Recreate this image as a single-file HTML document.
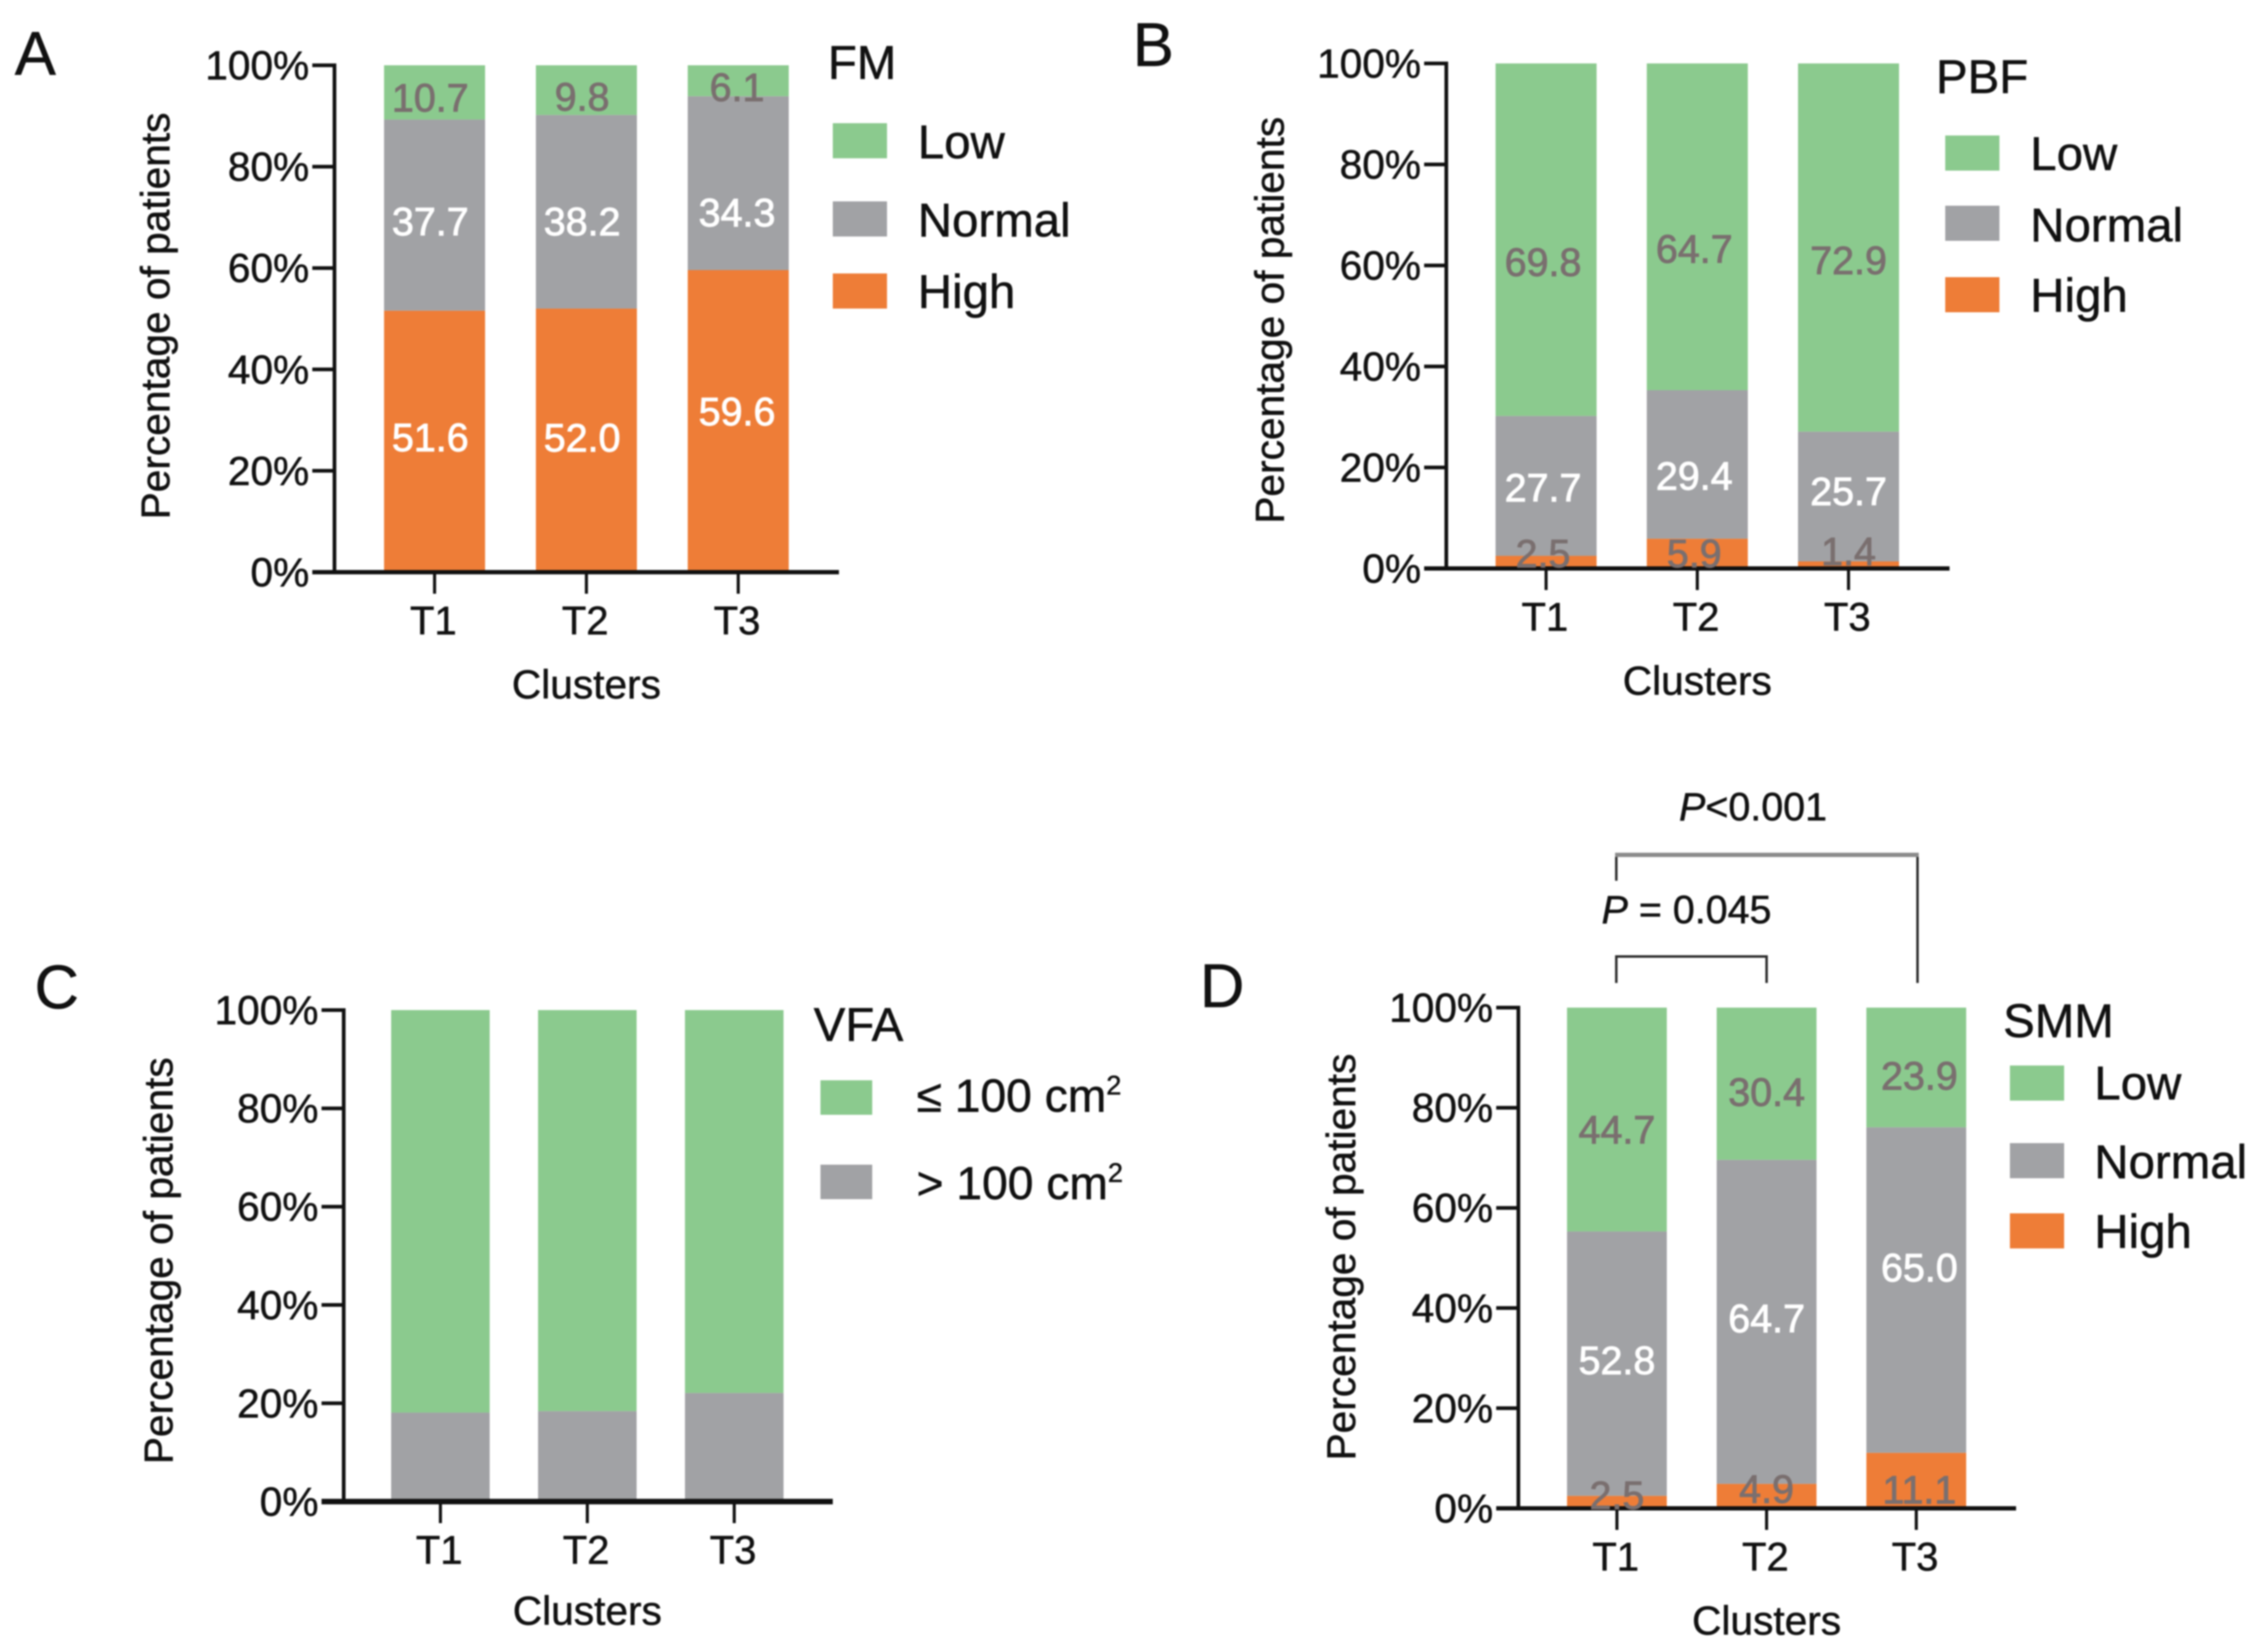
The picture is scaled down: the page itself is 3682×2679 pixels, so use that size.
<!DOCTYPE html>
<html lang="en">
<head>
<meta charset="utf-8">
<title>Body composition by cluster</title>
<style>
html,body{margin:0;padding:0;background:#fff;width:3682px;height:2679px;overflow:hidden}
svg{display:block;filter:blur(1.2px)}
text{font-family:"Liberation Sans",Arial,sans-serif;fill:#111;stroke:#111;stroke-width:.8px}
</style>
</head>
<body>
<svg id="figure" xmlns="http://www.w3.org/2000/svg" width="3682" height="2679" viewBox="0 0 3682 2679">
  <rect width="3682" height="2679" fill="#fff"/>
  <g>
    <path d="M2624 1388V1430M3113 1388V1596" fill="none" stroke="#2a2a2a" stroke-width="4"/>
    <path d="M2622 1388H3115" fill="none" stroke="#8c8c8c" stroke-width="7"/>
    <path d="M2624 1596V1553H2868V1596" fill="none" stroke="#2a2a2a" stroke-width="4"/>
    <text x="2846" y="1332" font-size="64" text-anchor="middle"><tspan font-style="italic">P</tspan>&lt;0.001</text>
    <text x="2738" y="1499" font-size="64" text-anchor="middle"><tspan font-style="italic">P</tspan> = 0.045</text>
  </g>
</svg>
<script>
const clusters = ['T1', 'T2', 'T3'];
const percentTicks = [0, 20, 40, 60, 80, 100];

const fmHigh = [51.6, 52.0, 59.6];
const fmNormal = [37.7, 38.2, 34.3];
const fmLow = [10.7, 9.8, 6.1];

const pbfHigh = [2.5, 5.9, 1.4];
const pbfNormal = [27.7, 29.4, 25.7];
const pbfLow = [69.8, 64.7, 72.9];

const vfaAbove = [18.1, 18.4, 22.1];
const vfaBelow = [81.9, 81.6, 77.9];

const smmHigh = [2.5, 4.9, 11.1];
const smmNormal = [52.8, 64.7, 65.0];
const smmLow = [44.7, 30.4, 23.9];

const GREEN = '#8bca8e';
const GREY = '#a1a2a5';
const ORANGE = '#ee7d37';
const LABEL_DARK = '#7a6f6f';
const LABEL_LIGHT = '#ffffff';
const SVG_NS = 'http://www.w3.org/2000/svg';
const figure = document.getElementById('figure');

function make(tag, attrs, parent) {
  const el = document.createElementNS(SVG_NS, tag);
  for (const key in attrs) el.setAttribute(key, attrs[key]);
  parent.appendChild(el);
  return el;
}

function drawPanel(cfg) {
  const yScale = v => cfg.y0 - (cfg.y0 - cfg.y100) * v / 100;
  const xScale = i => cfg.x0 + cfg.step * i;
  const xAxisWidth = cfg.xAxisWidth || 7;

  const panel = make('g', {}, figure);
  
  

  const letter = make('text', { x: cfg.letterX, y: cfg.letterY, 'font-size': 100 }, panel);
  letter.textContent = cfg.id.toUpperCase();
  
  

  // stacked bars, bottom-up
  clusters.forEach((cluster, i) => {
    let base = 0;
    cfg.series.forEach(s => {
      const value = s.values[i];
      const top = base + value;
      const bar = make('rect', {
        x: xScale(i) - cfg.barWidth / 2,
        y: yScale(Math.min(top, 100)),
        width: cfg.barWidth,
        height: yScale(base) - yScale(Math.min(top, 100)),
        fill: s.color
      }, panel);
      
      
      s.base = s.base || [];
      s.base[i] = base;
      base = top;
    });
  });

  // y axis
  const yAxis = make('line', { x1: cfg.axisX, x2: cfg.axisX, y1: yScale(100) - 3, y2: cfg.y0, stroke: '#111', 'stroke-width': 6 }, panel);
  
  

  percentTicks.forEach(t => {
    const mark = make('line', { x1: cfg.axisX - 36, x2: cfg.axisX, y1: yScale(t), y2: yScale(t), stroke: '#111', 'stroke-width': 6 }, panel);
    
    
    const label = make('text', { x: cfg.axisX - 41, y: yScale(t) + 23, 'font-size': 66, 'text-anchor': 'end' }, panel);
    label.textContent = t + '%';
    
    
  });

  // x axis
  const xAxis = make('line', { x1: cfg.axisX - 36, x2: cfg.axisEnd, y1: cfg.y0, y2: cfg.y0, stroke: '#111', 'stroke-width': xAxisWidth }, panel);
  
  

  clusters.forEach((cluster, i) => {
    const mark = make('line', { x1: xScale(i), x2: xScale(i), y1: cfg.y0, y2: cfg.y0 + 35, stroke: '#111', 'stroke-width': 5 }, panel);
    
    
    const label = make('text', { x: xScale(i) - 2, y: cfg.y0 + 101, 'font-size': 65, 'text-anchor': 'middle' }, panel);
    label.textContent = cluster;
    
    
  });

  // axis titles
  const xTitle = make('text', { x: xScale(1), y: cfg.y0 + (cfg.xTitleDrop || 205), 'font-size': 66, 'text-anchor': 'middle' }, panel);
  xTitle.textContent = 'Clusters';
  
  

  const yTitle = make('text', { 'font-size': 66, 'text-anchor': 'middle', transform: 'translate(' + (cfg.yTitleX + 22) + ' ' + cfg.yTitleY + ') rotate(-90)' }, panel);
  yTitle.textContent = 'Percentage of patients';
  
  

  // value labels
  cfg.series.forEach(s => {
    if (!s.labelColor) return;
    clusters.forEach((cluster, i) => {
      const mid = s.base[i] + s.values[i] / 2;
      const label = make('text', {
        x: xScale(i) + cfg.labelDx + (i === 2 ? 5 : 0),
        y: yScale(mid) + s.nudge[i] + 23,
        'font-size': 64,
        'text-anchor': 'middle',
        style: 'fill:' + s.labelColor + ';stroke:' + s.labelColor + ';stroke-width:1.4px'
      }, panel);
      label.textContent = s.values[i].toFixed(1);
      
      
    });
  });

  // legend
  const legendTitle = make('text', { x: cfg.legendTitleX, y: cfg.legendTitleY + 28, 'font-size': 77 }, panel);
  legendTitle.textContent = cfg.title;
  
  

  cfg.legend.forEach(entry => {
    const swatch = make('rect', { x: cfg.swatchX, y: entry.top, width: cfg.swatchW, height: cfg.swatchH, fill: entry.color }, panel);
    
    
    const text = make('text', { x: cfg.legendTextX, y: entry.textY + 28, 'font-size': cfg.legendSize || 77 }, panel);
    text.textContent = entry.text;
    
    
    if (entry.sup) {
      const sup = make('tspan', { dy: -28, 'font-size': 44 }, text);
      sup.textContent = entry.sup;
    }
  });
}

drawPanel({
  id: 'a', title: 'FM',
  letterX: 24, letterY: 121,
  axisX: 543, axisEnd: 1362, y0: 929, y100: 106,
  x0: 705.5, step: 246.5, barWidth: 164, labelDx: -7,
  yTitleX: 253, yTitleY: 513,
  legendTitleX: 1344, legendTitleY: 100,
  swatchX: 1352, swatchW: 88, swatchH: 57, legendTextX: 1490,
  series: [
    { key: 'high', values: fmHigh, color: ORANGE, labelColor: LABEL_LIGHT, nudge: [-7, -5, -16] },
    { key: 'normal', values: fmNormal, color: GREY, labelColor: LABEL_LIGHT, nudge: [10, 15, 47] },
    { key: 'low', values: fmLow, color: GREEN, labelColor: LABEL_DARK, nudge: [8, 10, 10] }
  ],
  legend: [
    { key: 'low', text: 'Low', color: GREEN, top: 200, textY: 229 },
    { key: 'normal', text: 'Normal', color: GREY, top: 327, textY: 356 },
    { key: 'high', text: 'High', color: ORANGE, top: 444, textY: 472 }
  ]
});

drawPanel({
  id: 'b', title: 'PBF',
  letterX: 1839, letterY: 107,
  axisX: 2348, axisEnd: 3165, y0: 923, y100: 103,
  x0: 2510, step: 245.5, barWidth: 164, labelDx: -5,
  yTitleX: 2062, yTitleY: 520,
  legendTitleX: 3143, legendTitleY: 123,
  swatchX: 3158, swatchW: 88, swatchH: 57, legendTextX: 3296,
  series: [
    { key: 'high', values: pbfHigh, color: ORANGE, labelColor: LABEL_DARK, nudge: [-15, -1, -23] },
    { key: 'normal', values: pbfNormal, color: GREY, labelColor: LABEL_LIGHT, nudge: [2, 18, -9] },
    { key: 'low', values: pbfLow, color: GREEN, labelColor: LABEL_DARK, nudge: [36, 35, 20] }
  ],
  legend: [
    { key: 'low', text: 'Low', color: GREEN, top: 220, textY: 248 },
    { key: 'normal', text: 'Normal', color: GREY, top: 334, textY: 364 },
    { key: 'high', text: 'High', color: ORANGE, top: 450, textY: 478 }
  ]
});

drawPanel({
  id: 'c', title: 'VFA',
  letterX: 56, letterY: 1637,
  axisX: 558, axisEnd: 1352, y0: 2438, y100: 1640,
  x0: 715, step: 238.5, barWidth: 160, labelDx: 0,
  xAxisWidth: 9, xTitleDrop: 200,
  yTitleX: 258, yTitleY: 2047,
  legendTitleX: 1321, legendTitleY: 1662,
  swatchX: 1332, swatchW: 84, swatchH: 56, legendTextX: 1488, legendSize: 75,
  series: [
    { key: 'above-100', values: vfaAbove, color: GREY },
    { key: 'below-100', values: vfaBelow, color: GREEN }
  ],
  legend: [
    { key: 'below-100', text: '\u2264 100 cm', sup: '2', color: GREEN, top: 1754, textY: 1777 },
    { key: 'above-100', text: '> 100 cm', sup: '2', color: GREY, top: 1891, textY: 1919 }
  ]
});

drawPanel({
  id: 'd', title: 'SMM',
  letterX: 1948, letterY: 1635,
  axisX: 2465, axisEnd: 3273, y0: 2449, y100: 1636,
  x0: 2625, step: 243, barWidth: 162, labelDx: 0,
  yTitleX: 2178, yTitleY: 2041,
  legendTitleX: 3252, legendTitleY: 1656,
  swatchX: 3263, swatchW: 88, swatchH: 57, legendTextX: 3400,
  series: [
    { key: 'high', values: smmHigh, color: ORANGE, labelColor: LABEL_DARK, nudge: [-12, -12, 14] },
    { key: 'normal', values: smmNormal, color: GREY, labelColor: LABEL_LIGHT, nudge: [-6, -6, -37] },
    { key: 'low', values: smmLow, color: GREEN, labelColor: LABEL_DARK, nudge: [16, 13, 13] }
  ],
  legend: [
    { key: 'low', text: 'Low', color: GREEN, top: 1730, textY: 1757 },
    { key: 'normal', text: 'Normal', color: GREY, top: 1856, textY: 1885 },
    { key: 'high', text: 'High', color: ORANGE, top: 1970, textY: 1998 }
  ]
});
</script>
</body>
</html>
